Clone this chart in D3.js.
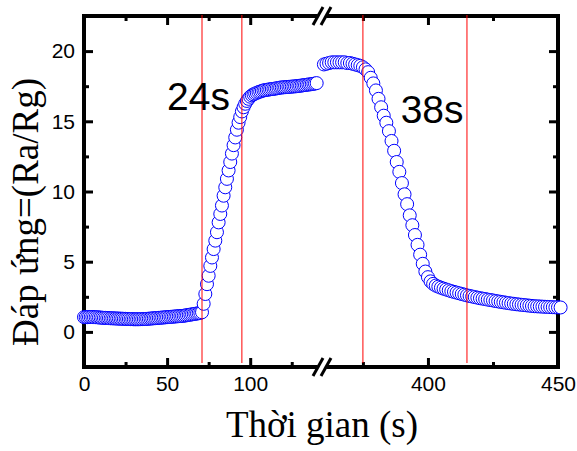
<!DOCTYPE html>
<html>
<head>
<meta charset="utf-8">
<title>Dap ung</title>
<script src="https://cdnjs.cloudflare.com/ajax/libs/d3/7.8.5/d3.min.js"></script>
<style>
  html, body { margin: 0; padding: 0; background: #fff; }
  svg { display: block; }
  .tick text { font-family: "Liberation Sans", Arial, sans-serif; font-size: 21px; fill: #000; }
  .tick line { stroke: #000; stroke-width: 3; }
  .domain { display: none; }
</style>
</head>
<body>
<svg id="svg" width="577" height="451"></svg>
<script type="text/javascript">
// sampled every 1 s, left part starts at 0 s, right part at 360 s
const leftStart = 0;
const leftValues = [
  1.05, 1.05, 1.05, 1.06, 1.06, 1.06, 1.05, 1.05, 1.04, 1.03, 1.02,
  1.01, 1.0, 1.0, 0.99, 0.98, 0.97, 0.97, 0.96, 0.96, 0.95,
  0.95, 0.94, 0.94, 0.93, 0.93, 0.92, 0.92, 0.91, 0.91, 0.9,
  0.9, 0.9, 0.9, 0.91, 0.91, 0.92, 0.92, 0.93, 0.94, 0.95,
  0.96, 0.97, 0.98, 0.99, 1.0, 1.01, 1.02, 1.03, 1.04, 1.05,
  1.06, 1.07, 1.08, 1.09, 1.1, 1.11, 1.12, 1.13, 1.14, 1.15,
  1.17, 1.19, 1.21, 1.23, 1.25, 1.27, 1.29, 1.31, 1.33, 1.35,
  1.4, 2.0, 2.7, 3.4, 4.0, 4.7, 5.3, 5.9, 6.5, 7.1,
  7.8, 8.4, 9.0, 9.7, 10.3, 10.9, 11.5, 12.1, 12.7, 13.3,
  13.85, 14.4, 14.9, 15.3, 15.7, 16.0, 16.25, 16.45, 16.6, 16.75,
  16.85, 16.92, 16.98, 17.03, 17.08, 17.12, 17.16, 17.2, 17.22, 17.24,
  17.26, 17.28, 17.3, 17.31, 17.33, 17.35, 17.37, 17.4, 17.41, 17.42,
  17.43, 17.44, 17.45, 17.46, 17.47, 17.48, 17.49, 17.5, 17.52, 17.53,
  17.55, 17.57, 17.58, 17.6, 17.62, 17.63, 17.65, 17.67, 17.69, 17.72
];
const rightStart = 360;
const rightValues = [
  19.05, 19.1, 19.15, 19.2, 19.2, 19.2, 19.2, 19.2, 19.2, 19.15,
  19.15, 19.1, 19.05, 19.0, 18.95, 18.85, 18.7, 18.5, 18.1, 17.7,
  17.2, 16.6, 16.0, 15.4, 14.9, 14.3, 13.6, 12.9, 12.1, 11.4,
  10.6, 9.8, 9.1, 8.3, 7.6, 6.9, 6.2, 5.5, 4.85, 4.3,
  3.9, 3.6, 3.42, 3.3, 3.22, 3.15, 3.08, 3.02, 2.96, 2.9,
  2.85, 2.8, 2.75, 2.7, 2.65, 2.6, 2.56, 2.52, 2.48, 2.44,
  2.4, 2.37, 2.34, 2.3, 2.27, 2.24, 2.2, 2.17, 2.14, 2.11,
  2.08, 2.05, 2.02, 2.0, 1.97, 1.95, 1.93, 1.91, 1.89, 1.87,
  1.85, 1.83, 1.82, 1.81, 1.8, 1.79, 1.78, 1.77, 1.76, 1.75,
  1.75, 1.74
];
const markTimes = [71, 95, 375, 415];
const notes = [
  { text: '24s', t: 50, v: 15.8 },
  { text: '38s', t: 389.5, v: 14.9 }
];
const xMajor = [0, 50, 100, 400, 450];
const xMinor = [25, 75, 125, 375, 425];
const yMajor = [0, 5, 10, 15, 20];
const yMinor = [-2.5, 2.5, 7.5, 12.5, 17.5, 22.5];
// axis break between these two times
const breakFrom = 142;
const breakTo = 358.5;

const pLeft = 84, pRight = 558, pTop = 16, pBottom = 367;
const breakX = 320;

const x = d3.scaleLinear()
  .domain([0, breakFrom, breakTo, 450])
  .range([pLeft, breakX, breakX, pRight]);
const y = d3.scaleLinear().domain([-2.5, 22.5]).range([pBottom, pTop]);

const svg = d3.select('#svg');

// ticks
function ticks(axis, vals, size, labels, tx, ty) {
  const g = svg.append('g').attr('transform', `translate(${tx},${ty})`)
    .call(axis.tickValues(vals).tickSize(-size).tickPadding(labels ? 9 : 0)
      .tickFormat(labels ? d3.format('d') : ''));
  return g;
}
ticks(d3.axisBottom(x), xMajor, 9, true, 0, pBottom);
ticks(d3.axisBottom(x), xMinor, 5, false, 0, pBottom);
ticks(d3.axisTop(x), xMajor, 9, false, 0, pTop);
ticks(d3.axisTop(x), xMinor, 5, false, 0, pTop);
ticks(d3.axisLeft(y), yMajor, 9, true, pLeft, 0);
ticks(d3.axisLeft(y), yMinor, 5, false, pLeft, 0);
ticks(d3.axisRight(y), yMajor, 9, false, pRight, 0);
ticks(d3.axisRight(y), yMinor, 5, false, pRight, 0);

svg.append('rect')
  .attr('x', pLeft).attr('y', pTop)
  .attr('width', pRight - pLeft).attr('height', pBottom - pTop)
  .attr('fill', 'none').attr('stroke', '#000').attr('stroke-width', 4);

// break marks on top and bottom axis
[pTop, pBottom].forEach(yy => {
  const c = breakX + 2;
  svg.append('polygon')
    .attr('points', `${c - 9},${yy + 8} ${c - 1},${yy - 8} ${c + 9},${yy - 8} ${c + 1},${yy + 8}`)
    .attr('fill', '#fff');
  [c - 4, c + 4].forEach(cx => {
    svg.append('line')
      .attr('x1', cx - 5).attr('y1', yy + 9)
      .attr('x2', cx + 5).attr('y2', yy - 9)
      .attr('stroke', '#000').attr('stroke-width', 3);
  });
});

const points = leftValues.map((v, i) => ({ t: leftStart + i, v }))
  .concat(rightValues.map((v, i) => ({ t: rightStart + i, v })));

svg.append('g')
  .selectAll('circle')
  .data(points)
  .enter()
  .append('circle')
  .attr('cx', d => x(d.t))
  .attr('cy', d => y(d.v))
  .attr('r', 6.5)
  .attr('fill', '#fff')
  .attr('stroke', '#0000ff')
  .attr('stroke-width', 1);

svg.append('g')
  .selectAll('line')
  .data(markTimes)
  .enter()
  .append('line')
  .attr('x1', d => x(d)).attr('x2', d => x(d))
  .attr('y1', pTop - 1).attr('y2', pBottom - 4)
  .attr('stroke', '#ff0000')
  .attr('stroke-width', 1);

svg.append('g')
  .selectAll('text')
  .data(notes)
  .enter()
  .append('text')
  .attr('x', d => x(d.t))
  .attr('y', d => y(d.v))
  .style('font-family', '"Liberation Sans", Arial, sans-serif')
  .style('font-size', '39px')
  .text(d => d.text);

svg.append('text')
  .attr('x', 322).attr('y', 437)
  .attr('text-anchor', 'middle')
  .style('font-family', '"Liberation Serif", "Times New Roman", serif')
  .style('font-size', '37px')
  .text('Thời gian (s)');

svg.append('text')
  .attr('transform', 'translate(38,212) rotate(-90)')
  .attr('text-anchor', 'middle')
  .style('font-family', '"Liberation Serif", "Times New Roman", serif')
  .style('font-size', '37px')
  .text('Đáp ứng=(Ra/Rg)');
</script>
</body>
</html>
